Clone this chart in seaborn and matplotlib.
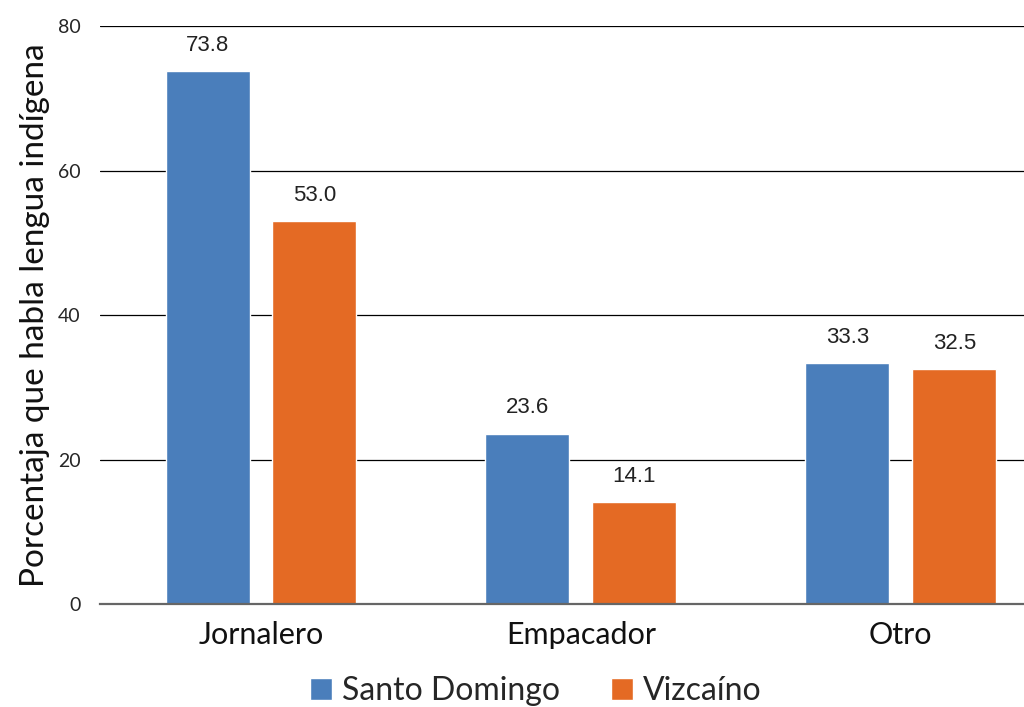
import pandas as pd
import matplotlib.pyplot as plt
import seaborn as sns

# Chart values
categories = ['Jornalero', 'Empacador', 'Otro']
santo_domingo = [73.8, 23.6, 33.3]
vizcaino = [53.0, 14.1, 32.5]
series_names = ['Santo Domingo', 'Vizcaíno']
y_ticks = [0, 20, 40, 60, 80]

data = pd.DataFrame({
    'Categoria': categories * 2,
    'Serie': [series_names[0]] * 3 + [series_names[1]] * 3,
    'Valor': santo_domingo + vizcaino,
})

sns.set_style('white')
plt.rcParams['font.family'] = ['Lato', 'DejaVu Sans']

fig = plt.figure(figsize=(10.24, 7.07), dpi=100)
ax = fig.add_axes([0.0977, 0.1457, 0.9023, 0.8173])

sns.barplot(data=data, x='Categoria', y='Valor', hue='Serie',
            palette=['#4A7EBB', '#E46A24'], width=0.668, gap=0.214,
            saturation=1, ax=ax, legend=True)

for cont in ax.containers:
    ax.bar_label(cont, fmt='%.1f', padding=11, fontsize=16,
                 family='Liberation Sans', color='#222222')

ax.set_ylim(0, 80)
ax.set_xlim(-0.503, 2.385)
ax.set_yticks(y_ticks)
ax.tick_params(axis='y', labelsize=14, length=0, pad=14)
ax.tick_params(axis='x', labelsize=22, length=0, pad=12)
for t in ax.get_xticklabels():
    t.set_color('#111111')
ax.yaxis.grid(True, color='black', linewidth=0.9)
ax.set_axisbelow(True)
for s in ['top', 'right', 'left']:
    ax.spines[s].set_visible(False)
ax.spines['bottom'].set_color('#666666')
ax.spines['bottom'].set_linewidth(1.6)
ax.set_xlabel('')
ax.set_ylabel('Porcentaja que habla lengua indígena', fontsize=24,
              labelpad=6, color='#111111')

handles, labels = ax.get_legend_handles_labels()
ax.legend_.remove()
fig.legend(handles, labels, loc='center', bbox_to_anchor=(0.523, 0.022),
           ncol=2, frameon=False, fontsize=23, handlelength=0.7,
           handleheight=0.7, handletextpad=0.3, columnspacing=1.6)

fig.savefig('out.png', dpi=100)
